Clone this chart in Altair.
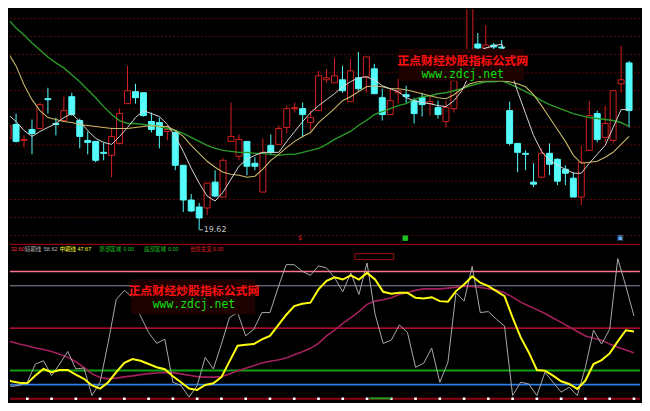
import altair as alt
import pandas as pd

# ---------------- data ----------------
opens = [21.46, 21.74, 21.42, 21.64, 21.66, 22.26, 21.76, 21.82, 22.30, 21.82,
         21.42, 21.40, 21.18, 21.12, 21.36, 22.16, 22.40, 22.38, 21.80, 21.78,
         21.60, 21.58, 20.92, 20.22, 20.08, 20.06, 20.58, 20.28, 21.40, 21.10,
         21.40, 20.96, 20.38, 21.32, 21.34, 21.68, 22.06, 22.06, 21.78, 22.02,
         22.64, 22.58, 22.64, 22.20, 22.68, 22.70, 22.86, 22.28, 21.94, 22.38,
         22.34, 22.22, 22.28, 22.16, 22.08, 21.80, 22.06, 22.66, 23.12, 23.36,
         23.28, 23.34, 23.30, 22.02, 21.36, 21.16, 20.58, 20.68, 21.16, 21.04,
         20.84, 20.66, 20.28, 21.22, 21.96, 21.48, 21.42, 22.56, 22.98]
highs = [21.82, 21.96, 21.52, 21.84, 22.18, 22.48, 21.88, 22.30, 22.38, 21.86,
         21.60, 21.40, 21.38, 21.66, 22.06, 22.92, 22.56, 22.38, 21.98, 21.88,
         21.72, 21.62, 20.92, 20.34, 20.16, 20.56, 20.82, 21.06, 22.18, 21.54,
         21.40, 21.08, 21.46, 21.54, 21.72, 22.12, 22.18, 22.18, 22.02, 22.82,
         22.86, 23.08, 22.92, 23.06, 23.20, 23.10, 22.96, 22.46, 22.48, 22.66,
         22.52, 22.28, 22.38, 22.32, 22.22, 22.22, 22.78, 23.22, 24.22, 23.58,
         23.74, 23.38, 23.44, 22.20, 21.36, 21.22, 20.96, 21.26, 21.36, 21.06,
         20.92, 20.78, 21.32, 22.22, 22.02, 22.12, 22.42, 23.32, 23.02]
lows = [21.26, 21.38, 21.28, 21.14, 21.66, 21.96, 21.52, 21.80, 21.92, 21.26,
        21.14, 20.98, 21.02, 20.68, 21.34, 22.16, 22.16, 21.90, 21.58, 21.26,
        21.42, 20.82, 19.98, 19.98, 19.62, 19.92, 20.28, 20.28, 21.40, 21.02,
        20.72, 20.82, 20.38, 21.12, 21.34, 21.56, 21.98, 21.48, 21.62, 22.02,
        22.58, 22.58, 22.38, 22.20, 22.42, 22.38, 22.36, 21.82, 21.94, 22.16,
        22.16, 21.76, 21.90, 21.92, 21.86, 21.68, 21.98, 22.62, 23.06, 23.22,
        23.22, 23.26, 23.22, 21.32, 20.78, 20.82, 20.48, 20.66, 20.72, 20.52,
        20.52, 20.28, 20.12, 21.22, 21.38, 21.38, 21.36, 22.38, 21.68]
closes = [21.72, 21.40, 21.44, 21.56, 22.14, 22.24, 21.74, 22.02, 21.94, 21.50,
          21.38, 21.02, 21.16, 21.50, 21.96, 22.42, 22.28, 21.92, 21.64, 21.52,
          21.64, 20.92, 20.22, 20.00, 19.86, 20.56, 20.30, 21.02, 21.50, 21.44,
          20.90, 20.90, 21.18, 21.18, 21.66, 22.06, 22.08, 21.94, 21.88, 22.72,
          22.68, 22.72, 22.42, 22.82, 22.46, 23.10, 22.36, 21.94, 22.22, 22.42,
          22.30, 21.96, 22.14, 22.20, 21.94, 22.08, 22.62, 23.18, 24.10, 23.28,
          23.34, 23.30, 23.28, 21.36, 21.18, 21.14, 20.54, 21.16, 20.94, 20.60,
          20.76, 20.28, 20.98, 21.92, 21.44, 21.76, 22.42, 22.64, 22.02]
ma_short = [21.94, 21.80, 21.62, 21.50, 21.60, 21.68, 21.76, 21.88, 21.96, 21.80,
            21.62, 21.46, 21.38, 21.34, 21.50, 21.68, 21.88, 22.02, 21.96, 21.90,
            21.74, 21.50, 21.20, 20.86, 20.56, 20.30, 20.20, 20.38, 20.64, 20.90,
            21.04, 21.12, 21.18, 21.18, 21.18, 21.40, 21.60, 21.80, 21.98, 22.12,
            22.24, 22.36, 22.50, 22.60, 22.68, 22.70, 22.64, 22.52, 22.46, 22.40,
            22.28, 22.22, 22.18, 22.16, 22.12, 22.10, 22.22, 22.42, 22.76, 23.22,
            23.28, 23.32, 23.36, 22.90, 22.40, 21.96, 21.52, 21.20, 21.02, 20.92,
            20.84, 20.76, 20.76, 20.96, 21.14, 21.32, 21.68, 22.04, 22.04]
ma_mid = [23.18, 22.92, 22.54, 22.24, 22.02, 21.88, 21.84, 21.80, 21.78, 21.74,
          21.72, 21.70, 21.68, 21.66, 21.66, 21.66, 21.68, 21.70, 21.72, 21.70,
          21.70, 21.62, 21.50, 21.32, 21.16, 21.00, 20.88, 20.78, 20.74, 20.72,
          20.68, 20.70, 20.84, 21.02, 21.14, 21.28, 21.40, 21.50, 21.58, 21.78,
          21.92, 22.06, 22.22, 22.30, 22.40, 22.50, 22.52, 22.50, 22.46, 22.46,
          22.44, 22.40, 22.36, 22.32, 22.28, 22.26, 22.34, 22.46, 22.56, 22.60,
          22.62, 22.62, 22.62, 22.60, 22.56, 22.50, 22.34, 22.12, 21.88, 21.64,
          21.40, 21.12, 20.96, 20.98, 21.00, 21.08, 21.18, 21.34, 21.50]
ma_long = [23.86, 23.68, 23.54, 23.38, 23.24, 23.10, 22.98, 22.88, 22.74, 22.60,
           22.44, 22.28, 22.10, 21.94, 21.82, 21.76, 21.76, 21.74, 21.72, 21.70,
           21.66, 21.62, 21.56, 21.48, 21.40, 21.32, 21.26, 21.22, 21.20, 21.18,
           21.18, 21.16, 21.16, 21.14, 21.12, 21.14, 21.14, 21.18, 21.22, 21.26,
           21.34, 21.44, 21.52, 21.60, 21.72, 21.82, 21.94, 22.00, 22.06, 22.12,
           22.16, 22.24, 22.30, 22.32, 22.36, 22.38, 22.42, 22.46, 22.52, 22.56,
           22.60, 22.60, 22.62, 22.56, 22.48, 22.40, 22.32, 22.22, 22.14, 22.08,
           22.02, 21.96, 21.92, 21.88, 21.86, 21.84, 21.82, 21.78, 21.70]
price_grid = [23.87, 23.51, 23.15, 22.78, 22.42, 22.05, 21.69, 21.33, 20.96,
              20.60, 20.23, 19.87, 19.51]

short_term = [14.8, 8.7, 9.4, 11.7, 24.6, 26.9, 16.4, 24.6, 33.5, 21.1,
              21.8, 2.3, 11.7, 39.9, 70.3, 76.7, 71.9, 58.6, 46.9, 39.2,
              42.2, 11.7, 9.4, 1.2, 9.4, 29.3, 21.1, 38.7, 57.5, 61.0,
              44.5, 49.2, 61.0, 61.0, 78.5, 94.9, 94.9, 90.2, 87.4, 94.0,
              92.6, 85.6, 75.7, 89.1, 73.8, 96.1, 59.8, 39.2, 41.5, 52.3,
              46.9, 22.3, 25.1, 35.9, 11.7, 25.8, 75.0, 69.1, 93.7, 61.0,
              61.7, 56.3, 51.5, 2.3, 11.7, 10.5, 2.3, 18.8, 11.7, 4.7,
              8.2, 2.3, 22.3, 48.5, 38.7, 49.2, 99.2, 79.7, 58.62]
mid_term = [15.0, 12.4, 11.3, 11.0, 16.4, 21.1, 18.8, 20.4, 20.4, 17.1,
            14.1, 9.4, 7.2, 11.7, 18.8, 25.5, 28.1, 26.9, 24.6, 22.3,
            20.9, 16.0, 11.7, 7.2, 6.3, 9.8, 11.0, 15.3, 26.5, 37.5,
            38.2, 38.7, 42.0, 44.5, 52.0, 59.3, 65.6, 67.3, 68.0, 77.4,
            83.5, 86.0, 84.4, 87.4, 84.4, 89.1, 84.4, 75.7, 74.3, 75.0,
            75.0, 71.5, 71.0, 71.9, 69.1, 68.7, 76.2, 80.9, 86.7, 82.1,
            79.7, 76.2, 72.6, 57.5, 43.4, 32.8, 20.4, 19.9, 16.4, 12.4,
            10.5, 7.0, 12.9, 24.6, 27.4, 32.1, 40.6, 48.5, 47.67]
long_term = [41.5, 40.3, 38.7, 37.5, 35.9, 34.9, 33.5, 31.6, 29.3, 26.2,
             22.3, 17.6, 15.0, 14.1, 14.6, 15.5, 16.2, 17.1, 17.8, 18.3,
             18.5, 18.5, 17.6, 16.7, 15.7, 15.3, 15.3, 15.7, 17.6, 19.9,
             21.6, 23.4, 25.3, 26.5, 27.4, 28.8, 31.2, 33.3, 35.7, 39.2,
             44.5, 48.5, 53.4, 57.5, 61.7, 66.8, 69.1, 70.1, 71.5, 73.8,
             75.2, 76.7, 77.8, 77.8, 77.8, 78.3, 79.0, 79.7, 79.5, 78.8,
             77.8, 76.9, 75.0, 71.9, 68.4, 65.6, 63.1, 60.3, 57.2, 54.1,
             50.8, 47.6, 44.5, 42.9, 41.5, 38.7, 36.4, 34.5, 32.6]
level_values = [90, 80, 50, 20, 10, 0]
level_colors = ["#ff6f8f", "#8a8aa0", "#e0103c", "#12a012", "#2a7fe8", "#8c0014"]
level_widths = [1.5, 1.2, 1.5, 2.2, 1.6, 2.0]

legend_labels = ["短期线", "中期线", "脐部区域", "底部区域", "长拉主叉"]
legend_label_x = [2.70, 7.00, 11.92, 17.44, 23.10]
legend_values = ["32.60", "58.62", "47.67", "0.00", "0.00", "0.00"]
legend_value_x = [0.98, 5.04, 9.21, 14.86, 20.39, 25.92]
legend_label_colors = ["#b8b8b8", "#ffff30", "#20c020", "#20c020", "#e02020"]
legend_value_colors = ["#ff3030", "#b8b8b8", "#ffff30", "#20c020", "#20c020", "#e02020"]

marker_x = [36.7, 49.9, 76.9]
marker_glyph = ["$", "■", "▣"]
marker_colors = ["#e02020", "#20c020", "#6ab0ff"]

watermark_cn = "正点财经炒股指标公式网"
watermark_url = "www.zdcj.net"

RED = "#d42020"
CYAN = "#54fcfc"

# ---------------- scales ----------------
xs = alt.Scale(domain=[0.86, 78.75], nice=False, zero=False)
ys_top = alt.Scale(domain=[19.34, 24.06], nice=False, zero=False)
ys_bot = alt.Scale(domain=[-2.11, 109.7], nice=False, zero=False)

n = len(opens)
df = pd.DataFrame({
    "i": list(range(n)), "open": opens, "high": highs, "low": lows, "close": closes,
    "ma5": ma_short, "ma10": ma_mid, "ma20": ma_long,
    "s": short_term, "m": mid_term, "l": long_term,
})
df["dir"] = ["up" if c >= o else "down" for o, c in zip(opens, closes)]

W, H_TOP, H_BOT = 634, 236, 159


def X(f="i"):
    return alt.X(f"{f}:Q", scale=xs, axis=None)


dir_col = alt.Scale(domain=["up", "down"], range=[RED, CYAN])
dir_fill = alt.Scale(domain=["up", "down"], range=["#000000", CYAN])

base = alt.Chart(df)

grid = alt.Chart(pd.DataFrame({"p": price_grid})).mark_rule(
    color="#5a0808", strokeWidth=1, strokeDash=[2, 2]
).encode(y=alt.Y("p:Q", scale=ys_top, axis=None))

wick = base.mark_rule(strokeWidth=1, clip=True).encode(
    x=X(), y=alt.Y("low:Q", scale=ys_top, axis=None), y2="high:Q",
    color=alt.Color("dir:N", scale=dir_col, legend=None))
body = base.mark_bar(width=6, strokeWidth=1, clip=True).encode(
    x=X(), y=alt.Y("open:Q", scale=ys_top, axis=None), y2="close:Q",
    fill=alt.Fill("dir:N", scale=dir_fill, legend=None),
    stroke=alt.Stroke("dir:N", scale=dir_col, legend=None))


def ma(field, color, w):
    return base.mark_line(color=color, strokeWidth=w, clip=True).encode(
        x=X(), y=alt.Y(f"{field}:Q", scale=ys_top, axis=None))


ma_lines = ma("ma20", "#2a9a2a", 1.4) + ma("ma10", "#c8b86a", 1.1) + ma("ma5", "#d8d8d8", 1.0)

low_idx = lows.index(min(lows))
low_df = pd.DataFrame({"x": [low_idx + 0.05], "x2": [low_idx + 0.45], "p": [min(lows)],
                       "t": [f"{min(lows):.2f}"]})
low_rule = alt.Chart(low_df).mark_rule(color="#c8c8c8", strokeWidth=1).encode(
    x=alt.X("x:Q", scale=xs, axis=None), x2="x2:Q",
    y=alt.Y("p:Q", scale=ys_top, axis=None))
low_text = alt.Chart(low_df).mark_text(align="left", baseline="middle", fontSize=8,
                                       font="DejaVu Sans", color="#c8c8c8", dx=1).encode(
    x=alt.X("x2:Q", scale=xs, axis=None), y=alt.Y("p:Q", scale=ys_top, axis=None), text="t:N")

mk_df = pd.DataFrame({"x": marker_x, "t": marker_glyph, "c": marker_colors, "p": [19.45] * 3})
markers = alt.Chart(mk_df).mark_text(fontSize=7, baseline="middle", font="DejaVu Sans",
                                     clip=True).encode(
    x=alt.X("x:Q", scale=xs, axis=None), y=alt.Y("p:Q", scale=ys_top, axis=None),
    text="t:N", color=alt.Color("c:N", scale=None))

wm_top = pd.DataFrame({"x": [49.1], "x2": [64.8], "y": [23.26], "y2": [22.62],
                       "xc": [57.1], "yc": [23.02], "yu": [22.73]})
wm_box = alt.Chart(wm_top).mark_rect(color="#1e0202").encode(
    x=alt.X("x:Q", scale=xs, axis=None), x2="x2:Q",
    y=alt.Y("y:Q", scale=ys_top, axis=None), y2="y2:Q")
wm_cn = alt.Chart(wm_top).mark_text(text=watermark_cn, font="Noto Sans CJK SC", fontSize=12,
                                    fontWeight="bold", color="#ff1010").encode(
    x=alt.X("xc:Q", scale=xs, axis=None), y=alt.Y("yc:Q", scale=ys_top, axis=None))
wm_url = alt.Chart(wm_top).mark_text(text=watermark_url, font="DejaVu Sans Mono", fontSize=11.5,
                                     color="#10e010").encode(
    x=alt.X("xc:Q", scale=xs, axis=None), y=alt.Y("yu:Q", scale=ys_top, axis=None))

top = alt.layer(grid, wick, body, ma_lines, low_rule, low_text, markers,
                wm_box, wm_cn, wm_url).properties(width=W, height=H_TOP)

# ---------------- bottom panel ----------------
lv = pd.DataFrame({"v": level_values, "c": level_colors, "w": level_widths})
levels = alt.Chart(lv).mark_rule().encode(
    y=alt.Y("v:Q", scale=ys_bot, axis=None),
    color=alt.Color("c:N", scale=None), strokeWidth=alt.StrokeWidth("w:Q", scale=None))

sep = alt.Chart(pd.DataFrame({"v": [109.3]})).mark_rule(color="#b00010", strokeWidth=1).encode(
    y=alt.Y("v:Q", scale=ys_bot, axis=None))


def ind(field, color, w):
    return base.mark_line(color=color, strokeWidth=w, clip=True).encode(
        x=X(), y=alt.Y(f"{field}:Q", scale=ys_bot, axis=None))


lines_bot = ind("l", "#a3205c", 1.6) + ind("s", "#a8a8a8", 1.0) + ind("m", "#ffff10", 2.0)

dot_idx = list(range(0, n, 3))
dots = alt.Chart(pd.DataFrame({"i": dot_idx, "v": [0] * len(dot_idx)})).mark_square(
    color="#ffffff", size=7, opacity=1, clip=True).encode(x=X(), y=alt.Y("v:Q", scale=ys_bot, axis=None))

lab_df = pd.DataFrame({"x": legend_label_x, "t": legend_labels, "c": legend_label_colors,
                       "v": [106.2] * len(legend_labels)})
val_df = pd.DataFrame({"x": legend_value_x, "t": legend_values, "c": legend_value_colors,
                       "v": [106.2] * len(legend_values)})
leg_labels = alt.Chart(lab_df).mark_text(align="left", baseline="middle", fontSize=5.5,
                                         font="Noto Sans CJK SC", clip=True).encode(
    x=alt.X("x:Q", scale=xs, axis=None), y=alt.Y("v:Q", scale=ys_bot, axis=None),
    text="t:N", color=alt.Color("c:N", scale=None))
leg_values = alt.Chart(val_df).mark_text(align="left", baseline="middle", fontSize=5.5,
                                         font="Liberation Sans", clip=True).encode(
    x=alt.X("x:Q", scale=xs, axis=None), y=alt.Y("v:Q", scale=ys_bot, axis=None),
    text="t:N", color=alt.Color("c:N", scale=None))

wm_b = pd.DataFrame({"x": [15.85], "x2": [31.2], "y": [84.4], "y2": [59.8],
                     "xc": [23.6], "yc": [75.9], "yu": [66.2]})
wmb_box = alt.Chart(wm_b).mark_rect(color="#1e0202").encode(
    x=alt.X("x:Q", scale=xs, axis=None), x2="x2:Q",
    y=alt.Y("y:Q", scale=ys_bot, axis=None), y2="y2:Q")
wmb_cn = alt.Chart(wm_b).mark_text(text=watermark_cn, font="Noto Sans CJK SC", fontSize=12,
                                   fontWeight="bold", color="#ff1010").encode(
    x=alt.X("xc:Q", scale=xs, axis=None), y=alt.Y("yc:Q", scale=ys_bot, axis=None))
wmb_url = alt.Chart(wm_b).mark_text(text=watermark_url, font="DejaVu Sans Mono", fontSize=11.5,
                                    color="#10e010").encode(
    x=alt.X("xc:Q", scale=xs, axis=None), y=alt.Y("yu:Q", scale=ys_bot, axis=None))

box_df = pd.DataFrame({"x": [43.5], "x2": [48.3], "y": [102.7], "y2": [98.5]})
small_box = alt.Chart(box_df).mark_rect(fill="#000000", stroke="#a01010", strokeWidth=1).encode(
    x=alt.X("x:Q", scale=xs, axis=None), x2="x2:Q",
    y=alt.Y("y:Q", scale=ys_bot, axis=None), y2="y2:Q")
seg_df = pd.DataFrame({"x": [45.3], "x2": [48.0], "v": [0.3]})
green_seg = alt.Chart(seg_df).mark_rule(color="#20a020", strokeWidth=2).encode(
    x=alt.X("x:Q", scale=xs, axis=None), x2="x2:Q", y=alt.Y("v:Q", scale=ys_bot, axis=None))

bottom = alt.layer(sep, levels, lines_bot, wmb_box, wmb_cn, wmb_url, dots, green_seg,
                   small_box, leg_labels, leg_values).properties(width=W, height=H_BOT)

chart = alt.vconcat(top, bottom, spacing=0).properties(
    background="#000000", padding=0
).configure_view(stroke=None).configure_concat(spacing=0)

chart.save("out.html", embed_options={"renderer": "svg", "actions": False})
